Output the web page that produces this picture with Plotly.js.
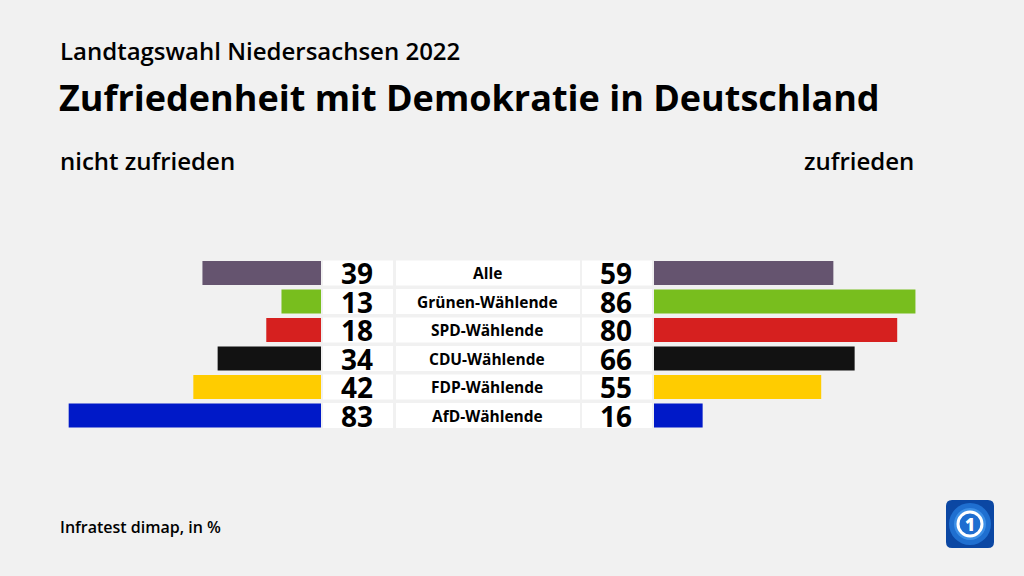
<!DOCTYPE html>
<html>
<head>
<meta charset="utf-8">
<script src="https://cdn.plot.ly/plotly-3.0.1.min.js"></script>
<style>
html,body{margin:0;padding:0;background:#f1f1f1;}
#chart{width:1024px;height:576px;}
</style>
</head>
<body>
<div id="chart"></div>
<script>
// ---- data ----
const categories = ["Alle", "Grünen-Wählende", "SPD-Wählende", "CDU-Wählende", "FDP-Wählende", "AfD-Wählende"];
const nichtZufrieden = [39, 13, 18, 34, 42, 83];
const zufrieden = [59, 86, 80, 66, 55, 16];
const colors = ["#65546f", "#78be1e", "#d6201f", "#121212", "#ffcc00", "#0019c8"];

const W = 1024, H = 576;
const px = v => v / W;
const py = v => 1 - v / H;

const idx = categories.map((c, i) => i);
const FONT = "Open Sans, Noto Sans, sans-serif";

const traces = [
  {type: "bar", orientation: "h", x: nichtZufrieden, y: idx, xaxis: "x", yaxis: "y",
   marker: {color: colors}, width: 0.84, hoverinfo: "none"},
  {type: "bar", orientation: "h", x: zufrieden, y: idx, xaxis: "x2", yaxis: "y",
   marker: {color: colors}, width: 0.84, hoverinfo: "none"}
];

const shapes = [];
const annotations = [];
categories.forEach((c, i) => {
  // white boxes
  [[323, 393], [396, 580], [582, 652]].forEach(b => {
    shapes.push({type: "rect", xref: "paper", yref: "y", x0: px(b[0]), x1: px(b[1]),
      y0: i - 0.44, y1: i + 0.44, fillcolor: "#ffffff", line: {width: 0}, layer: "below"});
  });
  annotations.push({xref: "paper", yref: "y", x: px(357), y: i, text: String(nichtZufrieden[i]),
    showarrow: false, xanchor: "center", yanchor: "middle",
    font: {family: FONT, size: 28, color: "#000", weight: 700}});
  annotations.push({xref: "paper", yref: "y", x: px(616), y: i, text: String(zufrieden[i]),
    showarrow: false, xanchor: "center", yanchor: "middle",
    font: {family: FONT, size: 28, color: "#000", weight: 700}});
  annotations.push({xref: "paper", yref: "y", x: px(487), y: i, text: c,
    showarrow: false, xanchor: "center", yanchor: "middle",
    font: {family: FONT, size: 15.5, color: "#000", weight: 700}});
});

// header texts
annotations.push({xref: "paper", yref: "paper", x: px(58), y: py(51), text: "Landtagswahl Niedersachsen 2022",
  showarrow: false, xanchor: "left", yanchor: "middle", font: {family: FONT, size: 24, color: "#000", weight: 600}});
annotations.push({xref: "paper", yref: "paper", x: px(57), y: py(97), text: "Zufriedenheit mit Demokratie in Deutschland",
  showarrow: false, xanchor: "left", yanchor: "middle", font: {family: FONT, size: 36, color: "#000", weight: 700}});
annotations.push({xref: "paper", yref: "paper", x: px(58), y: py(160), text: "nicht zufrieden",
  showarrow: false, xanchor: "left", yanchor: "middle", font: {family: FONT, size: 24, color: "#000", weight: 600}});
annotations.push({xref: "paper", yref: "paper", x: px(916), y: py(160), text: "zufrieden",
  showarrow: false, xanchor: "right", yanchor: "middle", font: {family: FONT, size: 24, color: "#000", weight: 600}});
annotations.push({xref: "paper", yref: "paper", x: px(58), y: py(527), text: "Infratest dimap, in %",
  showarrow: false, xanchor: "left", yanchor: "middle", font: {family: FONT, size: 16, color: "#000", weight: 600}});

// logo (rounded square with globe-like disc and "1")
const r = 6, L = 946, R = 994, T = 500, B = 548;
const rr = `M ${px(L + r)} ${py(T)} L ${px(R - r)} ${py(T)} Q ${px(R)} ${py(T)} ${px(R)} ${py(T + r)} ` +
  `L ${px(R)} ${py(B - r)} Q ${px(R)} ${py(B)} ${px(R - r)} ${py(B)} L ${px(L + r)} ${py(B)} ` +
  `Q ${px(L)} ${py(B)} ${px(L)} ${py(B - r)} L ${px(L)} ${py(T + r)} Q ${px(L)} ${py(T)} ${px(L + r)} ${py(T)} Z`;
shapes.push({type: "path", xref: "paper", yref: "paper", path: rr, fillcolor: "#0b47a3", line: {width: 0}});
shapes.push({type: "circle", xref: "paper", yref: "paper", x0: px(949), x1: px(991), y0: py(545), y1: py(503),
  fillcolor: "#1f6fd0", line: {width: 0}});
shapes.push({type: "circle", xref: "paper", yref: "paper", x0: px(954), x1: px(986), y0: py(540), y1: py(508),
  fillcolor: "#3c8fe6", line: {width: 0}});
shapes.push({type: "circle", xref: "paper", yref: "paper", x0: px(958), x1: px(982), y0: py(536), y1: py(512),
  fillcolor: "#1e6dd0", line: {width: 3, color: "#ffffff"}});
annotations.push({xref: "paper", yref: "paper", x: px(970), y: py(524), text: "1",
  showarrow: false, xanchor: "center", yanchor: "middle", font: {family: FONT, size: 17, color: "#fff", weight: 800}});

const layout = {
  width: W, height: H,
  margin: {l: 0, r: 0, t: 0, b: 0},
  paper_bgcolor: "#f1f1f1", plot_bgcolor: "rgba(0,0,0,0)",
  showlegend: false,
  xaxis: {domain: [px(17), px(321)], range: [100, 0], visible: false, fixedrange: true},
  xaxis2: {domain: [px(654), px(958)], range: [0, 100], visible: false, fixedrange: true},
  yaxis: {domain: [py(429.75), py(258.75)], range: [5.5, -0.5], visible: false, fixedrange: true},
  shapes: shapes,
  annotations: annotations
};

Plotly.newPlot("chart", traces, layout, {staticPlot: true});
</script>
</body>
</html>
